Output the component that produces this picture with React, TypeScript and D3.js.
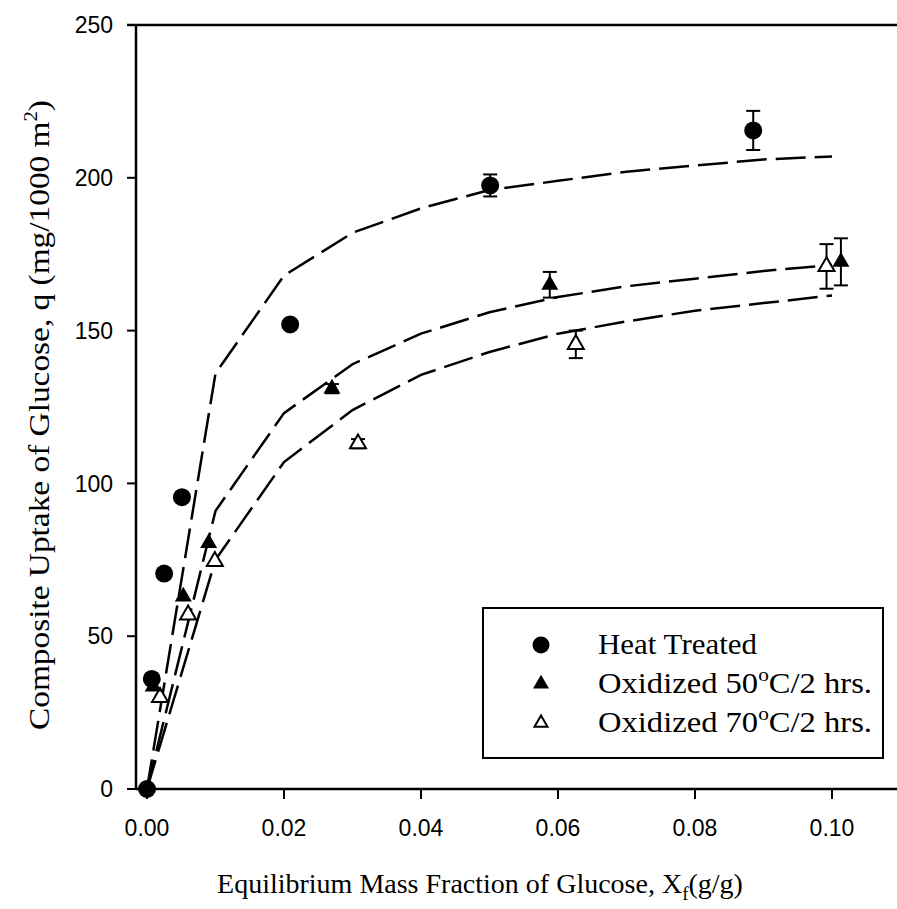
import React from 'react';
import * as d3 from 'd3';

// tick values
const xTicks = [0, 0.02, 0.04, 0.06, 0.08, 0.1];
const yTicks = [0, 50, 100, 150, 200, 250];

// measured points (x = mass fraction, q = uptake, err = half error bar)
const heatX = [0, 0.0007, 0.0025, 0.0051, 0.0209, 0.0501, 0.0885];
const heatQ = [0, 36, 70.5, 95.5, 152, 197.5, 215.5];
const heatErr = [0, 0, 0, 0, 0, 3.6, 6.4];

const ox50X = [0.0009, 0.0053, 0.009, 0.027, 0.0588, 0.1013];
const ox50Q = [33.5, 63, 80.5, 131, 165, 172.5];
const ox50Err = [0, 0, 0, 1.5, 4.2, 7.7];

const ox70X = [0.0019, 0.006, 0.0099, 0.0308, 0.0626, 0.0992];
const ox70Q = [30, 57, 74.5, 113, 145.5, 171];
const ox70Err = [0, 0, 0, 1.5, 4.5, 7.3];

// dashed model curves
const fitX = [0, 0.01, 0.02, 0.03, 0.04, 0.05, 0.06, 0.07, 0.08, 0.09, 0.1];
const heatFit = [0, 136, 168, 182, 190, 196, 199, 202, 204, 206, 207];
const ox50Fit = [0, 91, 123, 139, 149, 156, 161, 164.5, 167, 169.5, 171.5];
const ox70Fit = [0, 75, 107, 124, 135.5, 143, 149, 153, 156.5, 159, 161.5];

const W = 897;
const H = 909;
const axisLeft = 136;
const axisRight = 897;

const serif = '"Liberation Serif", "Times New Roman", serif';
const sans = '"Liberation Sans", Arial, sans-serif';

const x = d3.scaleLinear().domain([0, 0.1]).range([147, 832]);
const y = d3.scaleLinear().domain([0, 250]).range([789, 25]);

const line = d3.line<[number, number]>()
    .x(d => x(d[0]))
    .y(d => y(d[1]));

const triPath = (side: number) => d3.symbol().type(d3.symbolTriangle).size(Math.sqrt(3) / 4 * side * side)();

function Marker({ kind, cx, cy, small }: { kind: string, cx: number, cy: number, small?: boolean }) {
    if (kind === 'circle') {
        return <circle cx={cx} cy={cy} r={small ? 8.5 : 9} fill="#000" />;
    }
    if (kind === 'filled') {
        return <path d={triPath(small ? 16 : 17) || ''} transform={`translate(${cx},${cy})`} fill="#000" />;
    }
    return <path d={triPath(small ? 13 : 16) || ''} transform={`translate(${cx},${cy})`}
                 fill="#fff" stroke="#000" strokeWidth={2} />;
}

function Series({ xs, qs, errs, kind }: { xs: number[], qs: number[], errs: number[], kind: string }) {
    return (
        <g>
            {xs.map((v, i) => {
                const cx = x(v);
                const cy = y(qs[i]);
                const e = errs[i];
                return (
                    <g key={i}>
                        {e > 0 && (
                            <g stroke="#000" strokeWidth={2}>
                                <line x1={cx} x2={cx} y1={y(qs[i] + e)} y2={y(qs[i] - e)} />
                                <line x1={cx - 7} x2={cx + 7} y1={y(qs[i] + e)} y2={y(qs[i] + e)} />
                                <line x1={cx - 7} x2={cx + 7} y1={y(qs[i] - e)} y2={y(qs[i] - e)} />
                            </g>
                        )}
                        <Marker kind={kind} cx={cx} cy={cy} />
                    </g>
                );
            })}
        </g>
    );
}

export default function App() {
    const fits = [heatFit, ox50Fit, ox70Fit];
    const legend = [
        { kind: 'circle', label: ['Heat Treated'], len: 159 },
        { kind: 'filled', label: ['Oxidized 50', 'C/2 hrs.'], len: 274 },
        { kind: 'open', label: ['Oxidized 70', 'C/2 hrs.'], len: 274 }
    ];
    return (
        <svg width={W} height={H} style={{ position: 'absolute', left: 0, top: 0, background: '#fff' }}>
            <rect width={W} height={H} fill="#fff" />

            {/* frame */}
            <g stroke="#000" strokeWidth={2.5} fill="none">
                <line x1={axisLeft} x2={axisLeft} y1={y(250)} y2={y(0)} />
                <line x1={axisLeft} x2={axisRight} y1={y(0)} y2={y(0)} />
                <line x1={axisLeft - 9} x2={axisRight} y1={y(250)} y2={y(250)} />
            </g>

            {/* y ticks */}
            {yTicks.map(t => (
                <g key={t}>
                    <line x1={axisLeft - 9} x2={axisLeft} y1={y(t)} y2={y(t)} stroke="#000" strokeWidth={2} />
                    <text x={113} y={y(t)} dy="0.36em" textAnchor="end" fontFamily={sans} fontSize={23}>{t}</text>
                </g>
            ))}

            {/* x ticks */}
            {xTicks.map(t => (
                <g key={t}>
                    <line x1={x(t)} x2={x(t)} y1={y(0)} y2={y(0) + 10} stroke="#000" strokeWidth={2} />
                    <text x={x(t)} y={836} textAnchor="middle" fontFamily={sans} fontSize={23}>{t.toFixed(2)}</text>
                </g>
            ))}

            {/* dashed curves */}
            {fits.map((f, i) => (
                <path key={i} d={line(fitX.map((v, j) => [v, f[j]] as [number, number])) || ''}
                      fill="none" stroke="#000" strokeWidth={2.5} strokeDasharray="30 9" />
            ))}

            <Series xs={ox70X} qs={ox70Q} errs={ox70Err} kind="open" />
            <Series xs={ox50X} qs={ox50Q} errs={ox50Err} kind="filled" />
            <Series xs={heatX} qs={heatQ} errs={heatErr} kind="circle" />

            {/* legend */}
            <rect x={483} y={608} width={400} height={150} fill="#fff" stroke="#000" strokeWidth={2} />
            {legend.map((l, i) => {
                const cy = 645 + i * 39;
                return (
                    <g key={i}>
                        <Marker kind={l.kind} cx={541} cy={cy} small />
                        <text x={598} y={cy + 9} fontFamily={serif} fontSize={29}
                              textLength={l.len} lengthAdjust="spacingAndGlyphs">
                            {l.label[0]}
                            {l.label.length > 1 && <tspan dy={-12} fontSize={19}>o</tspan>}
                            {l.label.length > 1 && <tspan dy={12}>{l.label[1]}</tspan>}
                        </text>
                    </g>
                );
            })}

            {/* axis titles */}
            <text x={480} y={893} textAnchor="middle" fontFamily={serif} fontSize={28}>
                Equilibrium Mass Fraction of Glucose, X
                <tspan dy={7} fontSize={19}>f</tspan>
                <tspan dy={-7}>(g/g)</tspan>
            </text>
            <text transform="translate(49,415) rotate(-90)" textAnchor="middle" fontFamily={serif} fontSize={29}
                  textLength={630} lengthAdjust="spacingAndGlyphs">
                Composite Uptake of Glucose, q (mg/1000 m
                <tspan dy={-12} fontSize={18}>2</tspan>
                <tspan dy={12}>)</tspan>
            </text>
        </svg>
    );
}
